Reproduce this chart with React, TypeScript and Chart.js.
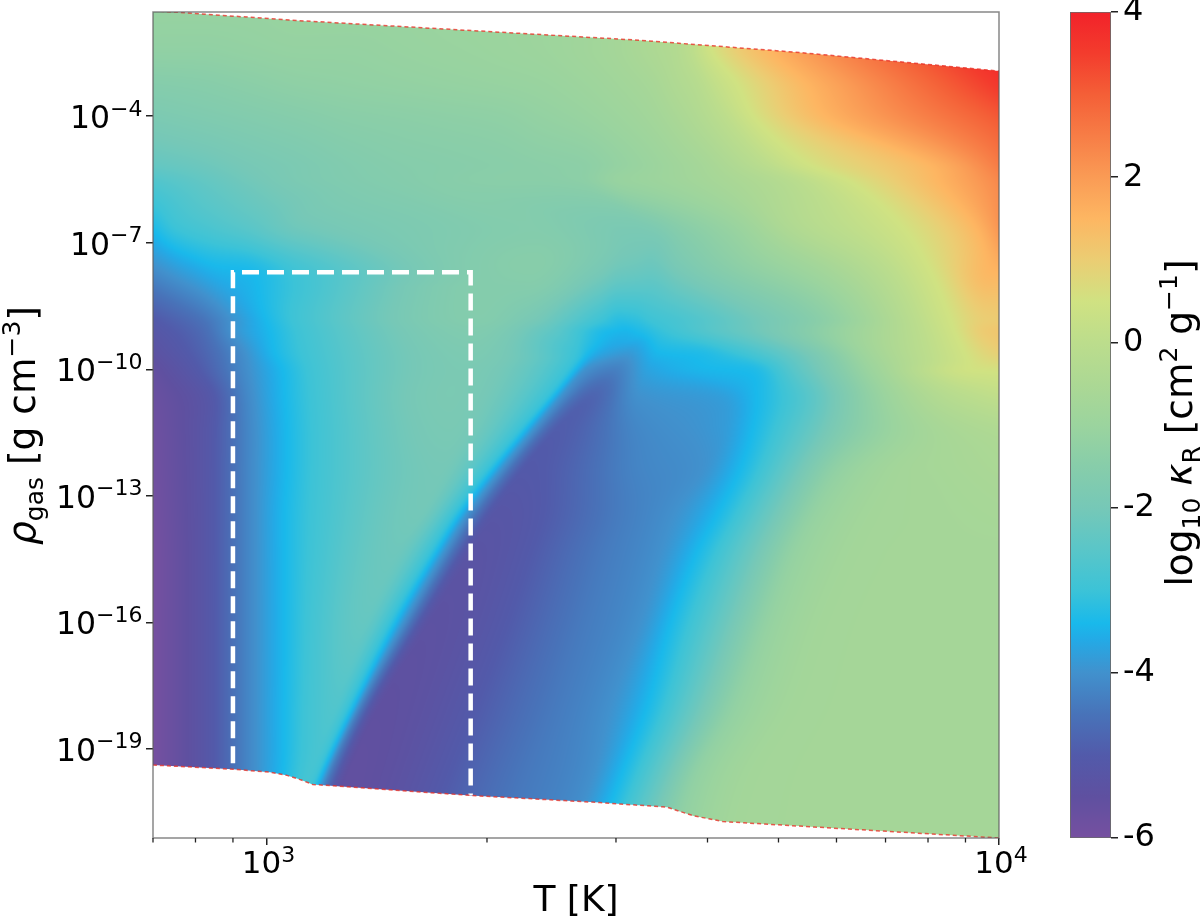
import React, { useEffect, useRef } from "react";
import { Chart, registerables } from "chart.js";

Chart.register(...registerables);

const FONT = '"DejaVu Sans"';

// Density rows of the opacity mesh, log10 g/cm^3
const meshLogRho = [-1.49, -2.43, -3.22, -4.09, -5.11, -5.59, -6.63, -7.65, -8.77, -9.12, -9.6, -10.02, -10.66, -11.45, -12.39, -13.41, -14.36, -15.95, -18.01, -19.58, -21.17];

// Temperature nodes of every row, log10 K
const meshLogT = [
  [2.845,2.909,2.977,3.045,3.114,3.182,3.25,3.319,3.373,3.428,3.482,3.523,3.558,3.578,3.592,3.605,3.674,4],
  [2.845,2.909,2.977,3.045,3.114,3.182,3.25,3.319,3.373,3.428,3.482,3.523,3.558,3.578,3.592,3.608,3.687,4],
  [2.845,2.909,2.977,3.045,3.114,3.182,3.25,3.319,3.373,3.428,3.482,3.523,3.558,3.585,3.612,3.642,3.735,4],
  [2.845,2.909,2.977,3.045,3.114,3.182,3.25,3.319,3.373,3.428,3.482,3.523,3.558,3.592,3.633,3.669,3.769,4],
  [2.845,2.909,2.977,3.045,3.114,3.182,3.25,3.319,3.373,3.428,3.482,3.523,3.558,3.599,3.66,3.738,3.899,4],
  [2.845,2.909,2.977,3.045,3.114,3.182,3.25,3.319,3.373,3.428,3.482,3.523,3.558,3.599,3.687,3.801,3.919,4],
  [2.845,2.875,2.923,2.977,3.045,3.223,3.36,3.455,3.482,3.503,3.523,3.564,3.605,3.646,3.715,3.869,3.967,4],
  [2.845,2.895,2.936,2.97,3.045,3.291,3.36,3.455,3.482,3.503,3.523,3.564,3.605,3.646,3.756,3.906,3.988,4],
  [2.845,2.909,2.957,2.998,3.045,3.291,3.36,3.455,3.482,3.503,3.523,3.564,3.605,3.646,3.769,3.933,3.981,4],
  [2.845,2.909,2.961,3.005,3.052,3.285,3.387,3.469,3.489,3.51,3.537,3.578,3.619,3.66,3.783,3.94,3.981,4],
  [2.845,2.909,2.964,3.011,3.059,3.278,3.425,3.441,3.462,3.492,3.537,3.592,3.646,3.715,3.824,3.953,3.981,4],
  [2.845,2.909,2.97,3.022,3.066,3.265,3.411,3.421,3.435,3.472,3.523,3.592,3.66,3.728,3.824,3.967,3.981,4],
  [2.845,2.916,2.977,3.025,3.07,3.25,3.383,3.391,3.402,3.441,3.51,3.619,3.669,3.728,3.824,3.933,3.974,4],
  [2.845,2.916,2.98,3.028,3.073,3.25,3.345,3.353,3.364,3.396,3.51,3.622,3.663,3.728,3.81,3.906,3.96,4],
  [2.845,2.916,2.98,3.028,3.073,3.237,3.301,3.309,3.32,3.353,3.51,3.592,3.646,3.715,3.783,3.865,3.933,4],
  [2.845,2.916,2.98,3.025,3.07,3.209,3.257,3.265,3.276,3.314,3.482,3.564,3.616,3.687,3.756,3.838,3.919,4],
  [2.845,2.916,2.98,3.025,3.067,3.175,3.223,3.231,3.242,3.28,3.455,3.537,3.587,3.66,3.728,3.81,3.906,4],
  [2.845,2.916,2.98,3.025,3.066,3.134,3.17,3.178,3.189,3.226,3.428,3.51,3.553,3.626,3.694,3.769,3.865,4],
  [2.845,2.916,2.98,3.024,3.063,3.093,3.11,3.118,3.127,3.155,3.38,3.469,3.519,3.585,3.646,3.728,3.838,4],
  [2.845,2.916,2.98,3.022,3.045,3.059,3.068,3.076,3.086,3.114,3.346,3.441,3.485,3.544,3.592,3.674,3.81,4],
  [2.845,2.916,2.98,3.005,3.018,3.025,3.034,3.041,3.052,3.082,3.312,3.408,3.452,3.51,3.564,3.646,3.81,4],
];

// log10 kappa_R at those nodes
const meshKappa = [
  [-1.1,-1.1,-1.1,-1.05,-1.05,-1.05,-1,-1,-0.95,-0.9,-0.75,-0.5,-0.3,-0.1,0.1,0.45,1.5,4],
  [-1.25,-1.25,-1.2,-1.15,-1.15,-1.1,-1.05,-1,-0.95,-0.85,-0.7,-0.5,-0.3,-0.05,0.2,0.5,1.5,3.95],
  [-1.55,-1.5,-1.4,-1.3,-1.25,-1.2,-1.15,-1.1,-1.05,-0.95,-0.8,-0.65,-0.4,-0.2,0.15,0.5,1.5,3.6],
  [-1.85,-1.75,-1.65,-1.55,-1.45,-1.4,-1.35,-1.3,-1.2,-1.1,-0.95,-0.8,-0.6,-0.35,0.05,0.5,1.5,3.05],
  [-2.3,-2.15,-1.95,-1.8,-1.65,-1.55,-1.5,-1.45,-1.4,-1.35,-1.15,-1,-0.85,-0.65,-0.2,0.5,1.5,2.55],
  [-2.7,-2.4,-2.1,-1.85,-1.7,-1.6,-1.5,-1.45,-1.45,-1.4,-1.1,-1,-0.9,-0.75,-0.35,0.5,1.5,2.3],
  [-3.35,-3,-2.75,-2.5,-2.1,-1.75,-1.6,-1.8,-1.85,-1.85,-1.8,-1.5,-1.25,-1,-0.4,0.5,1.5,2.1],
  [-4.1,-3.7,-3.45,-3.4,-2.9,-1.6,-1.5,-1.95,-2.15,-2.2,-2.25,-1.95,-1.65,-1.4,-0.8,0.5,1.5,1.55],
  [-5,-4.5,-3.9,-3.4,-2.9,-1.6,-1.9,-2.9,-3.15,-3.1,-2.95,-2.75,-2.5,-2.2,-1.3,0.5,1,1.05],
  [-5.2,-4.7,-3.9,-3.4,-2.9,-1.7,-2.4,-3.4,-3.45,-3.35,-3.1,-2.8,-2.5,-2.2,-1.1,0.5,1.05,1.15],
  [-5.4,-4.85,-4.1,-3.4,-2.9,-1.8,-3.05,-3.4,-3.7,-3.85,-3.4,-3.3,-2.95,-2.25,-0.8,0.5,0.8,0.95],
  [-5.6,-5,-4.1,-3.4,-2.9,-1.85,-3.05,-3.4,-4,-4.3,-3.7,-3.45,-3.35,-2.4,-1,0.5,0.52,0.55],
  [-5.75,-5.2,-4.1,-3.4,-2.9,-1.85,-3.05,-3.4,-4,-4.8,-4,-3.8,-3.4,-2.7,-1.25,-0.2,0,0.1],
  [-5.85,-5.2,-4.1,-3.4,-2.9,-1.9,-3.05,-3.4,-4,-4.95,-4.15,-3.85,-3.4,-2.5,-1.4,-0.7,-0.5,-0.4],
  [-5.9,-5.2,-4.1,-3.4,-2.9,-2,-3.05,-3.4,-4,-5.05,-4.2,-4,-3.4,-2.25,-1.2,-0.75,-0.65,-0.55],
  [-5.95,-5.2,-4.1,-3.4,-2.9,-2.05,-3.05,-3.4,-4,-5.2,-4.35,-3.95,-3.4,-2.2,-1.1,-0.75,-0.7,-0.65],
  [-6,-5.2,-4.1,-3.4,-2.9,-2.15,-3.05,-3.4,-4,-5.3,-4.4,-4,-3.4,-2.2,-1.1,-0.75,-0.7,-0.7],
  [-6,-5.2,-4.1,-3.4,-2.85,-2.3,-3.05,-3.4,-4,-5.4,-4.4,-4,-3.4,-2.2,-1.1,-0.75,-0.7,-0.7],
  [-6,-5.2,-4.1,-3.4,-2.85,-2.65,-3,-3.4,-4.2,-5.5,-4.45,-4,-3.4,-2.2,-1.15,-0.75,-0.7,-0.7],
  [-6,-5.2,-4.1,-3.4,-3,-2.85,-2.95,-3.4,-4.3,-5.55,-4.45,-4.05,-3.4,-2.2,-1.2,-0.75,-0.7,-0.7],
  [-6,-5.2,-4.1,-3.4,-3,-2.85,-2.95,-3.4,-4.3,-5.55,-4.45,-4.05,-3.4,-2.2,-1.2,-0.75,-0.7,-0.7],
];

// Edges of the table
const topEdgeLogT = [2.845, 2.872, 3.045, 3.51, 3.728, 4];
const topEdgeLogRho = [-1.5, -1.53, -1.735, -2.2, -2.49, -2.93];
const bottomEdgeLogT = [2.845, 2.954, 3.005, 3.027, 3.045, 3.063, 3.278, 3.455, 3.547, 3.582, 3.623, 4];
const bottomEdgeLogRho = [-19.38, -19.48, -19.55, -19.62, -19.72, -19.84, -20.1, -20.27, -20.38, -20.58, -20.72, -21.11];

// The dashed box
const boxT = [900, 900, 1900, 1900];
const boxRho = [4.6e-20, 2e-8, 2e-8, 8e-21];

// Axes
const xRange = [700, 10000];
const yRange = [Math.pow(10, -21.11), Math.pow(10, -1.53)];
const xMajorTicks = [1000, 10000];
const xMajorExp = ["3", "4"];
const xMinorTicks = [700, 800, 900, 2000, 3000, 4000, 5000, 6000, 7000, 8000, 9000];
const yTickExp = [-4, -7, -10, -13, -16, -19];
const colorbarTicks = [-6, -4, -2, 0, 2, 4];

// Colour map: value and colour
const cmapValues = [-6, -5.5, -5, -4.5, -4, -3.6, -3.4, -3, -2.5, -2, -1.5, -1, -0.5, 0, 0.5, 1, 1.5, 2, 2.5, 3, 3.5, 4];
const cmapColors = [
  [118,80,160],[95,80,160],[82,90,170],[72,115,185],[65,145,205],[35,170,230],[25,185,235],[60,195,215],[90,198,200],[118,200,183],[135,205,170],[155,212,158],[172,216,148],[188,221,140],[208,226,130],[235,205,115],[253,182,98],[250,155,85],[247,125,70],[244,95,55],[243,60,45],[242,34,42],
];

function colorAt(v: number): number[] {
  if (v <= cmapValues[0]) return cmapColors[0];
  for (let i = 1; i < cmapValues.length; i++) {
    if (v <= cmapValues[i]) {
      const t = (v - cmapValues[i - 1]) / (cmapValues[i] - cmapValues[i - 1]);
      const a = cmapColors[i - 1];
      const b = cmapColors[i];
      return [a[0] + (b[0] - a[0]) * t, a[1] + (b[1] - a[1]) * t, a[2] + (b[2] - a[2]) * t];
    }
  }
  return cmapColors[cmapColors.length - 1];
}

type Seg = { t: string; s: number; dy?: number; it?: boolean };

function rich(ctx: CanvasRenderingContext2D, segs: Seg[], x: number, y: number, rot: number, align: "left" | "center" | "right") {
  ctx.save();
  ctx.translate(x, y);
  ctx.rotate(rot);
  ctx.fillStyle = "#000";
  ctx.textBaseline = "alphabetic";
  ctx.textAlign = "left";
  const font = (g: Seg) => `${g.it ? "italic " : ""}${g.s}px ${FONT}`;
  let total = 0;
  for (const g of segs) {
    ctx.font = font(g);
    total += ctx.measureText(g.t).width;
  }
  let px = align === "center" ? -total / 2 : align === "right" ? -total : 0;
  for (const g of segs) {
    ctx.font = font(g);
    ctx.fillText(g.t, px, g.dy || 0);
    px += ctx.measureText(g.t).width;
  }
  ctx.restore();
}

function hermite(p0: number, p1: number, p2: number, p3: number, y0: number, y1: number, y2: number, y3: number, t: number) {
  const d = y2 - y1;
  const m1 = ((p2 - p0) / (y2 - y0 || 1)) * d;
  const m2 = ((p3 - p1) / (y3 - y1 || 1)) * d;
  const t2 = t * t;
  const t3 = t2 * t;
  return (2 * t3 - 3 * t2 + 1) * p1 + (t3 - 2 * t2 + t) * m1 + (-2 * t3 + 3 * t2) * p2 + (t3 - t2) * m2;
}

const meshPlugin = {
  id: "opacityMesh",
  beforeDatasetsDraw(chart: any) {
    const { ctx, chartArea: a, scales } = chart;
    const xs = scales.x;
    const ys = scales.y;
    const m = 8;
    const W = Math.round(a.right - a.left + 2 * m);
    const H = Math.round(a.bottom - a.top + 2 * m);
    const off = document.createElement("canvas");
    off.width = W;
    off.height = H;
    const oc = off.getContext("2d")!;
    const img = oc.createImageData(W, H);
    const rowPx = meshLogRho.map((r) => ys.getPixelForValue(Math.pow(10, r)));
    const knotPx = meshLogT.map((row) => row.map((l) => xs.getPixelForValue(Math.pow(10, l))));
    const nR = rowPx.length;
    const nK = knotPx[0].length;
    const cx = new Array(nK);
    const cv = new Array(nK);
    const sl = new Array(nK);
    for (let py = 0; py < H; py++) {
      const yp = a.top - m + py + 0.5;
      let i = 0;
      while (i < nR - 2 && yp >= rowPx[i + 1]) i++;
      const t = Math.min(1, Math.max(0, (yp - rowPx[i]) / (rowPx[i + 1] - rowPx[i])));
      const i0 = Math.max(0, i - 1);
      const i3 = Math.min(nR - 1, i + 2);
      for (let k = 0; k < nK; k++) {
        cx[k] = hermite(knotPx[i0][k], knotPx[i][k], knotPx[i + 1][k], knotPx[i3][k], rowPx[i0], rowPx[i], rowPx[i + 1], rowPx[i3], t);
        cv[k] = hermite(meshKappa[i0][k], meshKappa[i][k], meshKappa[i + 1][k], meshKappa[i3][k], rowPx[i0], rowPx[i], rowPx[i + 1], rowPx[i3], t);
        if (k > 0 && cx[k] <= cx[k - 1]) cx[k] = cx[k - 1] + 0.01;
      }
      // shape-preserving slopes along the row, so the ridges stay rounded
      for (let k = 0; k < nK; k++) {
        if (k === 0 || k === nK - 1) {
          const j = k === 0 ? 0 : nK - 2;
          sl[k] = (cv[j + 1] - cv[j]) / (cx[j + 1] - cx[j]);
          continue;
        }
        const h0 = cx[k] - cx[k - 1];
        const h1 = cx[k + 1] - cx[k];
        const d0 = (cv[k] - cv[k - 1]) / h0;
        const d1 = (cv[k + 1] - cv[k]) / h1;
        if (d0 * d1 <= 0) sl[k] = 0;
        else {
          const w1 = 2 * h1 + h0;
          const w2 = h1 + 2 * h0;
          sl[k] = (w1 + w2) / (w1 / d0 + w2 / d1);
        }
      }
      let k = 0;
      for (let px = 0; px < W; px++) {
        const xp = a.left - m + px + 0.5;
        while (k < nK - 2 && xp >= cx[k + 1]) k++;
        const h = cx[k + 1] - cx[k];
        const f = Math.min(1, Math.max(0, (xp - cx[k]) / h));
        const f2 = f * f;
        const f3 = f2 * f;
        const val = (2 * f3 - 3 * f2 + 1) * cv[k] + (f3 - 2 * f2 + f) * h * sl[k] + (-2 * f3 + 3 * f2) * cv[k + 1] + (f3 - f2) * h * sl[k + 1];
        const c = colorAt(val);
        const o = (py * W + px) * 4;
        img.data[o] = c[0];
        img.data[o + 1] = c[1];
        img.data[o + 2] = c[2];
        img.data[o + 3] = 255;
      }
    }
    oc.putImageData(img, 0, 0);
    ctx.save();
    ctx.beginPath();
    ctx.rect(a.left, a.top, a.right - a.left, a.bottom - a.top);
    ctx.clip();
    ctx.beginPath();
    topEdgeLogT.forEach((l, n) => {
      const X = xs.getPixelForValue(Math.pow(10, l));
      const Y = ys.getPixelForValue(Math.pow(10, topEdgeLogRho[n]));
      if (n === 0) ctx.moveTo(X, Y);
      else ctx.lineTo(X, Y);
    });
    for (let n = bottomEdgeLogT.length - 1; n >= 0; n--) {
      ctx.lineTo(xs.getPixelForValue(Math.pow(10, bottomEdgeLogT[n])), ys.getPixelForValue(Math.pow(10, bottomEdgeLogRho[n])));
    }
    ctx.closePath();
    ctx.clip();
    ctx.filter = "blur(1px)";
    ctx.drawImage(off, a.left - m, a.top - m);
    ctx.filter = "none";
    ctx.restore();
  },
  afterDatasetsDraw(chart: any) {
    const { ctx, chartArea: a, scales } = chart;
    const xs = scales.x;
    const ys = scales.y;
    ctx.save();
    ctx.strokeStyle = "rgba(95,95,95,0.75)";
    ctx.lineWidth = 1.5;
    ctx.strokeRect(a.left, a.top, a.right - a.left, a.bottom - a.top);
    ctx.strokeStyle = "#222";
    ctx.lineWidth = 1.3;
    xMinorTicks.forEach((v) => {
      const X = xs.getPixelForValue(v);
      ctx.beginPath();
      ctx.moveTo(X, a.bottom);
      ctx.lineTo(X, a.bottom + 4.5);
      ctx.stroke();
    });
    ctx.restore();
    xMajorTicks.forEach((v, n) => {
      rich(ctx, [{ t: "10", s: 31 }, { t: xMajorExp[n], s: 22, dy: -11 }], xs.getPixelForValue(v) + 2, 873, 0, "center");
    });
    yTickExp.forEach((e) => {
      rich(ctx, [{ t: "10", s: 31.5 }, { t: "\u2212" + Math.abs(e), s: 22, dy: -12.5 }], 142.5, ys.getPixelForValue(Math.pow(10, e)) + 12, 0, "right");
    });
    rich(ctx, [{ t: "T [K]", s: 36 }], (a.left + a.right) / 2, 911, 0, "center");
    rich(
      ctx,
      [
        { t: "\u03c1", s: 37.5, it: true },
        { t: "gas", s: 25, dy: 7.5 },
        { t: " [g cm", s: 37.5 },
        { t: "\u22123", s: 25, dy: -15 },
        { t: "]", s: 37.5 },
      ],
      35,
      425.5,
      -Math.PI / 2,
      "center"
    );
  },
};

const colorbarPlugin = {
  id: "colorbarLabel",
  afterDatasetsDraw(chart: any) {
    rich(
      chart.ctx,
      [
        { t: "log", s: 37.5 },
        { t: "10", s: 25, dy: 7.5 },
        { t: " ", s: 37.5 },
        { t: "\u03ba", s: 37.5, it: true },
        { t: "R", s: 25, dy: 7.5 },
        { t: " [cm", s: 37.5 },
        { t: "2", s: 25, dy: -15 },
        { t: " g", s: 37.5 },
        { t: "\u22121", s: 25, dy: -15 },
        { t: "]", s: 37.5 },
      ],
      142,
      423,
      -Math.PI / 2,
      "center"
    );
  },
};

export default function App() {
  const mainRef = useRef<HTMLCanvasElement>(null);
  const barRef = useRef<HTMLCanvasElement>(null);

  useEffect(() => {
    const vertices: any[] = [];
    meshLogRho.forEach((r, i) => {
      meshLogT[i].forEach((l, k) => {
        vertices.push({ x: Math.pow(10, l), y: Math.pow(10, r), v: meshKappa[i][k] });
      });
    });
    const edgeStyle = {
      showLine: true,
      pointRadius: 0,
      borderColor: "rgba(232,50,40,0.8)",
      borderWidth: 1.5,
      borderDash: [4, 3],
    };
    const main = new Chart(mainRef.current as any, {
      type: "scatter",
      data: {
        datasets: [
          { label: "kappa", data: vertices, showLine: false, pointRadius: 0 } as any,
          { label: "top edge", data: topEdgeLogT.map((l, n) => ({ x: Math.pow(10, l), y: Math.pow(10, topEdgeLogRho[n]) })), ...edgeStyle } as any,
          { label: "bottom edge", data: bottomEdgeLogT.map((l, n) => ({ x: Math.pow(10, l), y: Math.pow(10, bottomEdgeLogRho[n]) })), ...edgeStyle } as any,
          {
            label: "box",
            data: boxT.map((t, n) => ({ x: t, y: boxRho[n] })),
            showLine: true,
            pointRadius: 0,
            borderColor: "#ffffff",
            borderWidth: 4.5,
            borderDash: [17, 8],
            borderCapStyle: "butt",
            borderJoinStyle: "miter",
          } as any,
        ],
      },
      options: {
        responsive: false,
        animation: false,
        events: [],
        layout: { padding: { left: 146, top: 12, right: 51, bottom: 74 } },
        plugins: { legend: { display: false }, tooltip: { enabled: false } },
        scales: {
          x: {
            type: "logarithmic",
            min: xRange[0],
            max: xRange[1],
            border: { display: false },
            grid: { display: true, drawOnChartArea: false, drawTicks: true, tickLength: 7, tickColor: "#222", lineWidth: 1.5 },
            ticks: { display: false, autoSkip: false },
            afterBuildTicks: (s: any) => {
              s.ticks = xMajorTicks.map((value) => ({ value }));
            },
            afterFit: (s: any) => {
              s.height = 7;
            },
          },
          y: {
            type: "logarithmic",
            min: yRange[0],
            max: yRange[1],
            border: { display: false },
            grid: { display: true, drawOnChartArea: false, drawTicks: true, tickLength: 7, tickColor: "#222", lineWidth: 1.5 },
            ticks: { display: false, autoSkip: false },
            afterBuildTicks: (s: any) => {
              s.ticks = yTickExp.map((e) => ({ value: Math.pow(10, e) }));
            },
            afterFit: (s: any) => {
              s.width = 7;
            },
          },
        },
      } as any,
      plugins: [meshPlugin],
    });

    const bar = new Chart(barRef.current as any, {
      type: "bar",
      data: {
        labels: ["kappa"],
        datasets: [
          {
            data: [[colorbarTicks[0], colorbarTicks[colorbarTicks.length - 1]]],
            barPercentage: 1,
            categoryPercentage: 1,
            borderWidth: 1.2,
            borderColor: "rgba(90,90,90,0.9)",
            borderSkipped: false,
            backgroundColor: (c: any) => {
              const { chart } = c;
              if (!chart.chartArea) return "#888";
              const ys = chart.scales.y;
              const g = chart.ctx.createLinearGradient(0, ys.getPixelForValue(-6), 0, ys.getPixelForValue(4));
              cmapValues.forEach((v, i) => {
                const k = cmapColors[i];
                g.addColorStop((v + 6) / 10, `rgb(${k[0]},${k[1]},${k[2]})`);
              });
              return g;
            },
          } as any,
        ],
      },
      options: {
        responsive: false,
        animation: false,
        events: [],
        layout: { padding: { left: 20, top: 12, right: 0, bottom: 81 } },
        plugins: { legend: { display: false }, tooltip: { enabled: false } },
        scales: {
          x: { display: false },
          y: {
            position: "right",
            min: -6,
            max: 4,
            border: { display: false },
            grid: { display: true, drawOnChartArea: false, drawTicks: true, tickLength: 7, tickColor: "#222", lineWidth: 1.5 },
            ticks: {
              stepSize: 2,
              padding: 5,
              color: "#000",
              font: { family: FONT, size: 32 },
              callback: (v: any) => String(v),
            },
            afterFit: (s: any) => {
              s.width = 89;
              s.paddingTop = 0;
              s.paddingBottom = 0;
            },
          },
        },
      } as any,
      plugins: [colorbarPlugin],
    });

    return () => {
      main.destroy();
      bar.destroy();
    };
  }, []);

  return (
    <div style={{ position: "fixed", left: 0, top: 0, width: 1200, height: 919, background: "#fff", overflow: "hidden" }}>
      <canvas ref={mainRef} width={1050} height={919} style={{ position: "absolute", left: 0, top: 0, width: 1050, height: 919 }} />
      <canvas ref={barRef} width={150} height={919} style={{ position: "absolute", left: 1050, top: 0, width: 150, height: 919 }} />
    </div>
  );
}
